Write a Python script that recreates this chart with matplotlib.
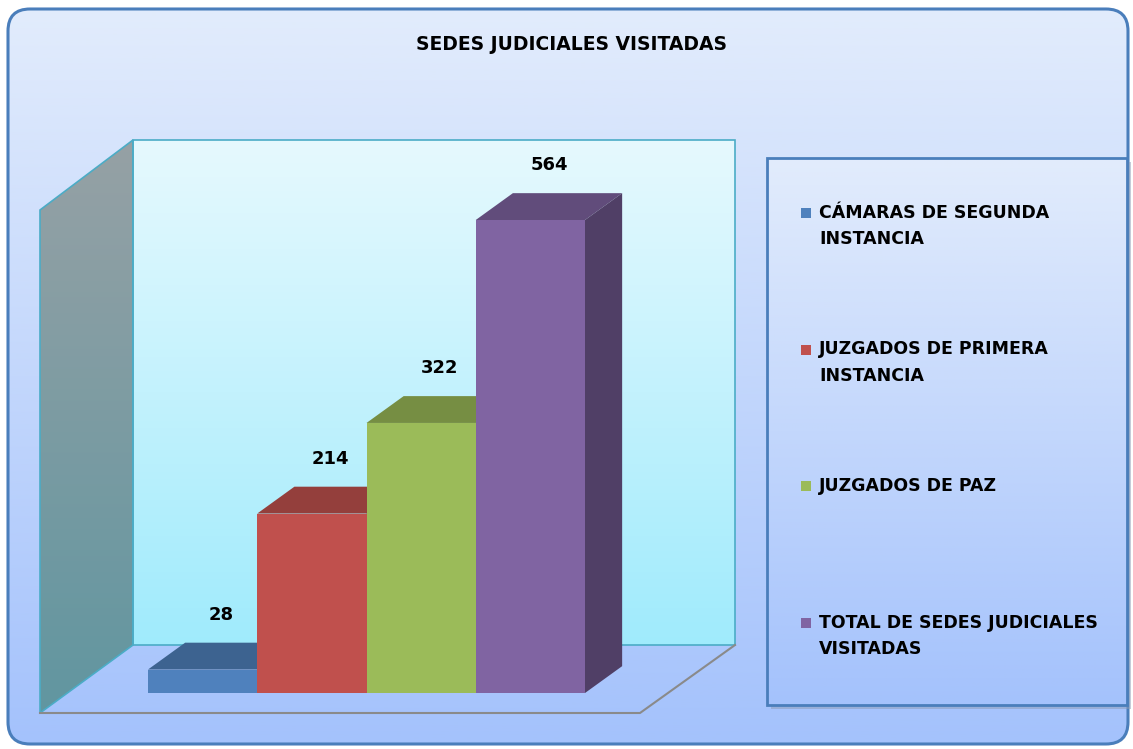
"""3D style bar chart: sedes judiciales visitadas."""

import numpy as np
import matplotlib
matplotlib.use("Agg")
import matplotlib.pyplot as plt
from matplotlib.patches import FancyBboxPatch, Polygon, Rectangle
from matplotlib.colors import LinearSegmentedColormap

###################################################################################################
###################################################################################################

TITLE = "SEDES JUDICIALES VISITADAS"
CATEGORIES = ["CÁMARAS DE SEGUNDA\nINSTANCIA",
              "JUZGADOS DE PRIMERA\nINSTANCIA",
              "JUZGADOS DE PAZ",
              "TOTAL DE SEDES JUDICIALES\nVISITADAS"]
VALUES = [28, 214, 322, 564]

FRONT = ["#4F81BD", "#C0504D", "#9BBB59", "#8064A2"]
TOP = ["#3D6390", "#943F3C", "#768E43", "#614C7B"]
SIDE = ["#32527A", "#7C3432", "#62773A", "#503F66"]

W, H = 1133, 749
DEPTH_X = 0.34      # depth offset in category units
DEPTH_Y = 32        # depth offset in value units


def gradient(ax, extent, c_top, c_bot, clip):
    cmap = LinearSegmentedColormap.from_list("g", [c_top, c_bot])
    grad = np.linspace(0, 1, 256).reshape(-1, 1)
    im = ax.imshow(grad, cmap=cmap, extent=extent, aspect="auto",
                   interpolation="bilinear", zorder=clip.get_zorder())
    im.set_clip_path(clip)
    return im


def main():

    fig = plt.figure(figsize=(W / 100, H / 100), dpi=100)
    bg = fig.add_axes([0, 0, 1, 1])
    bg.set_xlim(0, W)
    bg.set_ylim(H, 0)
    bg.axis("off")

    # outer chart area
    box = FancyBboxPatch((8, 9), 1120, 735, boxstyle="round,pad=0,rounding_size=22",
                         facecolor="none", edgecolor="#4A7EBB", lw=2.2, zorder=3)
    bg.add_patch(box)
    clip = FancyBboxPatch((8, 9), 1120, 735, boxstyle="round,pad=0,rounding_size=22",
                          facecolor="none", edgecolor="none", zorder=1)
    bg.add_patch(clip)
    gradient(bg, (8, 1128, 744, 9), "#E2ECFC", "#A4C2FC", clip)

    bg.text(571, 45, TITLE, ha="center", va="center", fontsize=13.5, fontweight="bold",
            zorder=4)

    # back wall
    back = Rectangle((133, 140), 602, 505, facecolor="none", edgecolor="none", zorder=2)
    bg.add_patch(back)
    gradient(bg, (133, 735, 645, 140), "#E6F9FE", "#A0EBFC", back)
    bg.add_patch(Rectangle((133, 140), 602, 505, facecolor="none", edgecolor="#4BACC6",
                           lw=1.2, zorder=2.5))

    # side wall
    side = Polygon([(40, 210), (133, 140), (133, 645), (40, 713)], closed=True,
                   facecolor="none", edgecolor="none", zorder=2)
    bg.add_patch(side)
    gradient(bg, (40, 133, 713, 140), "#96A1A5", "#6196A0", side)
    bg.add_patch(Polygon([(40, 210), (133, 140), (133, 645), (40, 713)], closed=True,
                         facecolor="none", edgecolor="#4BACC6", lw=1.2, zorder=2.5))

    # floor edges
    bg.plot([40, 640, 735], [713, 713, 645], color="#8A8A8A", lw=1.5, zorder=2.5)

    # bars
    ax = fig.add_axes([148 / W, (H - 693) / H, (585 - 148) / W, 473 / H])
    ax.set_xlim(-0.5, len(VALUES) - 0.5)
    ax.set_ylim(0, max(VALUES))
    ax.axis("off")
    ax.patch.set_alpha(0)

    for i, v in enumerate(VALUES):
        x0, x1 = i - 0.5, i + 0.5
        z = 3 + i
        ax.add_patch(Polygon([(x0, v), (x1, v), (x1 + DEPTH_X, v + DEPTH_Y),
                              (x0 + DEPTH_X, v + DEPTH_Y)], closed=True,
                             facecolor=TOP[i], edgecolor="none", clip_on=False, zorder=z))
        ax.add_patch(Polygon([(x1, 0), (x1 + DEPTH_X, DEPTH_Y), (x1 + DEPTH_X, v + DEPTH_Y),
                              (x1, v)], closed=True,
                             facecolor=SIDE[i], edgecolor="none", clip_on=False, zorder=z))
        ax.bar(i, v, width=1.0, color=FRONT[i], zorder=z + 0.5, clip_on=False)
        ax.annotate(str(v), (i + DEPTH_X / 2, v + DEPTH_Y), xytext=(0, 20),
                    textcoords="offset points", ha="center", va="center",
                    fontsize=13, fontweight="bold", annotation_clip=False, zorder=10)

    # legend
    lx0, ly0, lw_, lh = 767, 158, 360, 547
    bg.add_patch(Rectangle((lx0 + 4, ly0 + 4), lw_, lh, facecolor="#8C9BB5", alpha=0.5,
                           edgecolor="none", zorder=4))
    lbox = Rectangle((lx0, ly0), lw_, lh, facecolor="none", edgecolor="none", zorder=5)
    bg.add_patch(lbox)
    gradient(bg, (lx0, lx0 + lw_, ly0 + lh, ly0), "#E2ECFC", "#A4C2FC", lbox)
    bg.add_patch(Rectangle((lx0, ly0), lw_, lh, facecolor="none", edgecolor="#4A7EBB",
                           lw=2, zorder=5.5))

    for i, lab in enumerate(CATEGORIES):
        y = 213 + i * 136.5
        bg.add_patch(Rectangle((801, y - 5), 10, 10, facecolor=FRONT[i], edgecolor="none",
                               zorder=6))
        bg.text(819, y - 9, lab, ha="left", va="top", fontsize=12.5, fontweight="bold",
                linespacing=1.6, zorder=6)

    plt.savefig("out.png", dpi=100)


if __name__ == "__main__":
    main()
